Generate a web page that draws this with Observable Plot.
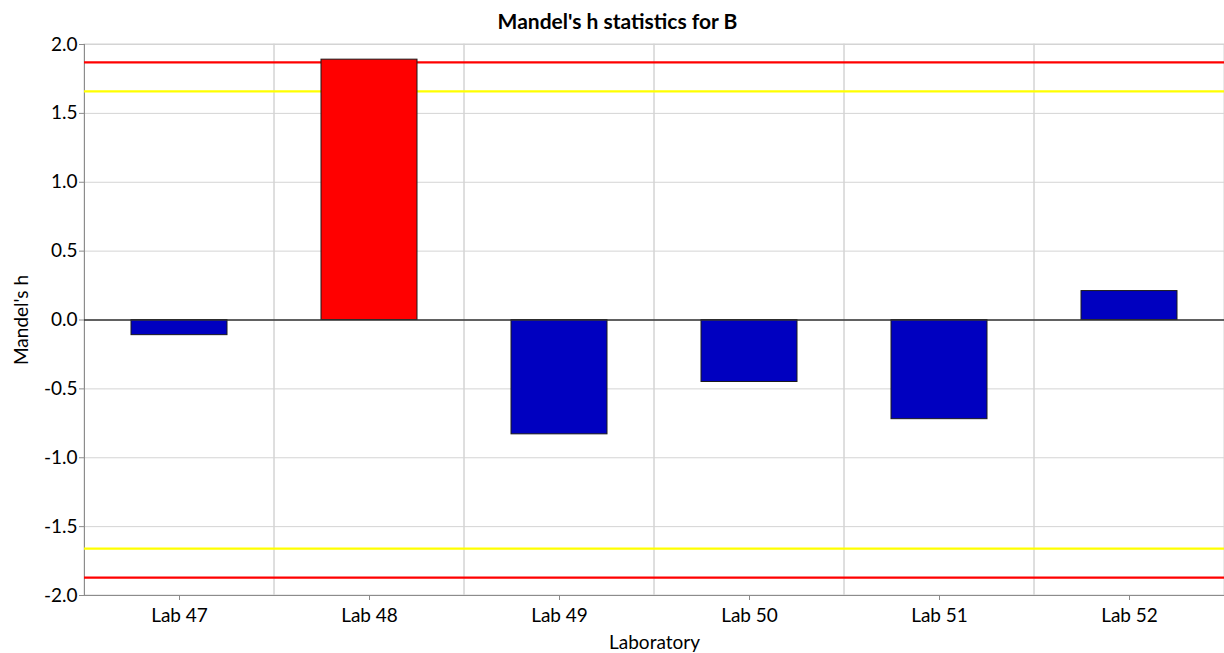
<!DOCTYPE html>
<html>
<head>
<meta charset="utf-8">
<script src="https://cdn.jsdelivr.net/npm/d3@7"></script>
<script src="https://cdn.jsdelivr.net/npm/@observablehq/plot@0.6"></script>
<style>
  html, body { margin: 0; padding: 0; background: #fff; }
  #chart svg { display: block; }
</style>
</head>
<body>
<div id="chart"></div>
<script>
// Laboratories and their Mandel's h statistic for analyte B
const labs = ["Lab 47", "Lab 48", "Lab 49", "Lab 50", "Lab 51", "Lab 52"];
const hValues = [-0.11, 1.89, -0.83, -0.45, -0.72, 0.21];

// Critical values of h for 6 laboratories
const h1pct = [1.87, -1.87];   // 1 % significance
const h5pct = [1.66, -1.66];   // 5 % significance

const yTicks = [-2, -1.5, -1, -0.5, 0, 0.5, 1, 1.5, 2];

const titleText = "Mandel's h statistics for B";
const xLabel = "Laboratory";
const yLabel = "Mandel's h";

const data = labs.map((lab, i) => ({lab, h: hValues[i]}));
const font = "Lato, 'Open Sans', sans-serif";

const chart = Plot.plot({
  width: 1224,
  height: 653,
  marginLeft: 84,
  marginRight: 0,
  marginTop: 44,
  marginBottom: 58,
  style: {fontFamily: font, fontSize: "19px", color: "#000", background: "#fff"},
  x: {domain: labs, padding: 0, axis: null},
  y: {domain: [-2, 2], axis: null},
  marks: [
    // horizontal grid
    Plot.gridY(yTicks, {stroke: "#d4d4d4", strokeOpacity: 1}),
    // vertical grid at category boundaries
    Plot.barY(labs, {x: d => d, y1: -2, y2: 2, fill: "none", stroke: "#d4d4d4", strokeWidth: 1}),
    // axis lines
    Plot.ruleY([-2], {stroke: "#8c8c8c"}),
    Plot.ruleX([labs[0]], {x: d => d, y1: -2, y2: 2, stroke: "#8c8c8c", dx: -95}),
    // control limits
    Plot.ruleY(h5pct, {stroke: "#ffff00", strokeWidth: 2.2}),
    Plot.ruleY(h1pct, {stroke: "#ff0000", strokeWidth: 2.2}),
    // bars
    Plot.barY(data, {
      x: "lab", y: "h",
      fill: d => Math.abs(d.h) > h1pct[0] ? "#ff0000" : "#0000c0",
      stroke: "#1a1a1a", strokeWidth: 1,
      insetLeft: 47, insetRight: 47
    }),
    // zero line
    Plot.ruleY([0], {stroke: "#333", strokeWidth: 1.6}),
    // axes
    Plot.axisY(yTicks, {
      tickFormat: d => d.toFixed(1), tickSize: 5, tickPadding: 2,
      stroke: "#8c8c8c", fill: "#000", fontSize: 19, label: null
    }),
    Plot.axisX({
      tickSize: 5, tickPadding: 8, stroke: "#8c8c8c", fill: "#000", fontSize: 19, label: null
    }),
    // titles
    Plot.text([titleText], {
      frameAnchor: "top", dy: -30, dx: -37, fontWeight: "bold", fontSize: 21, fill: "#000"
    }),
    Plot.text([xLabel], {
      frameAnchor: "bottom", dy: 53, fontSize: 19, fill: "#000"
    }),
    Plot.text([yLabel], {
      frameAnchor: "left", textAnchor: "middle", dx: -63, rotate: -90, fontSize: 19, fill: "#000"
    })
  ]
});

document.getElementById("chart").append(chart);
</script>
</body>
</html>
